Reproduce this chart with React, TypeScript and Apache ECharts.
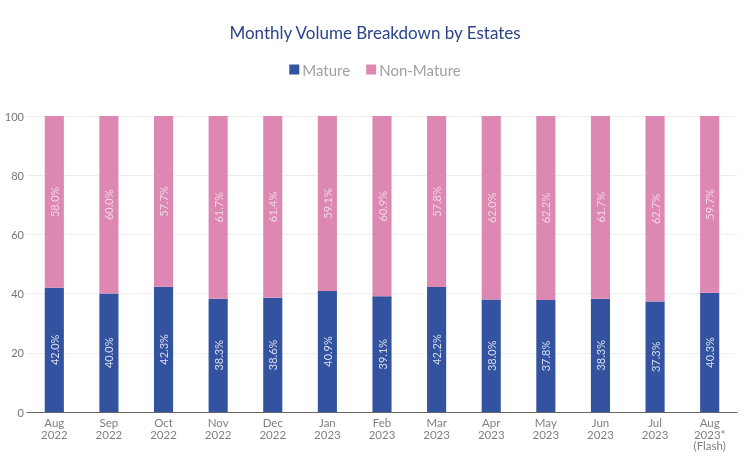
import React, { useEffect, useRef } from "react";
import * as echarts from "echarts";

const categories = [
  "Aug\n2022", "Sep\n2022", "Oct\n2022", "Nov\n2022", "Dec\n2022", "Jan\n2023",
  "Feb\n2023", "Mar\n2023", "Apr\n2023", "May\n2023", "Jun\n2023", "Jul\n2023",
  "Aug\n2023*\n(Flash)",
];
const mature = [42.0, 40.0, 42.3, 38.3, 38.6, 40.9, 39.1, 42.2, 38.0, 37.8, 38.3, 37.3, 40.3];
const nonMature = [58.0, 60.0, 57.7, 61.7, 61.4, 59.1, 60.9, 57.8, 62.0, 62.2, 61.7, 62.7, 59.7];

const FONT = "Lato, 'Noto Sans', sans-serif";

export default function App() {
  const ref = useRef<HTMLDivElement>(null);
  useEffect(() => {
    if (!ref.current) return;
    const chart = echarts.init(ref.current, null, { renderer: "svg" });
    const label = (color: string) => ({
      show: true,
      position: "inside" as const,
      rotate: 90,
      color,
      fontSize: 11,
      fontFamily: FONT,
      formatter: (p: any) => `${Number(p.value).toFixed(1)}%`,
    });
    chart.setOption({
      animation: false,
      textStyle: { fontFamily: FONT },
      title: {
        text: "Monthly Volume Breakdown by Estates",
        left: "center",
        top: 19,
        textStyle: { color: "#2B4489", fontSize: 17, fontWeight: "normal", fontFamily: FONT },
      },
      legend: {
        top: 57,
        left: "center",
        itemWidth: 10,
        itemHeight: 10,
        itemGap: 16,
        icon: "rect",
        textStyle: { color: "#a0a0a0", fontSize: 15, fontFamily: FONT, padding: [0, 0, 0, -2] },
        data: ["Mature", "Non-Mature"],
      },
      grid: { left: 27, right: 13, top: 116, bottom: 48, containLabel: false },
      xAxis: {
        type: "category",
        data: categories,
        axisTick: { show: false },
        axisLine: { lineStyle: { color: "#666", width: 1 } },
        axisLabel: { color: "#808080", fontSize: 11.5, lineHeight: 11.5, margin: 5, interval: 0 },
      },
      yAxis: {
        type: "value",
        min: 0,
        max: 100,
        interval: 20,
        axisLine: { show: false },
        axisTick: { show: false },
        axisLabel: { color: "#777", fontSize: 11, margin: 3 },
        splitLine: { lineStyle: { color: "#eeeeee" } },
      },
      series: [
        {
          name: "Mature",
          type: "bar",
          stack: "total",
          barWidth: "35%",
          data: mature,
          itemStyle: { color: "#3352A0" },
          label: label("rgba(255,255,255,0.8)"),
        },
        {
          name: "Non-Mature",
          type: "bar",
          stack: "total",
          barWidth: "35%",
          data: nonMature,
          itemStyle: { color: "#DD88B2" },
          label: label("rgba(255,255,255,0.65)"),
        },
      ],
    });
    return () => chart.dispose();
  }, []);
  return (
    <div
      ref={ref}
      style={{ position: "fixed", left: 0, top: 0, width: 750, height: 460 }}
    />
  );
}
